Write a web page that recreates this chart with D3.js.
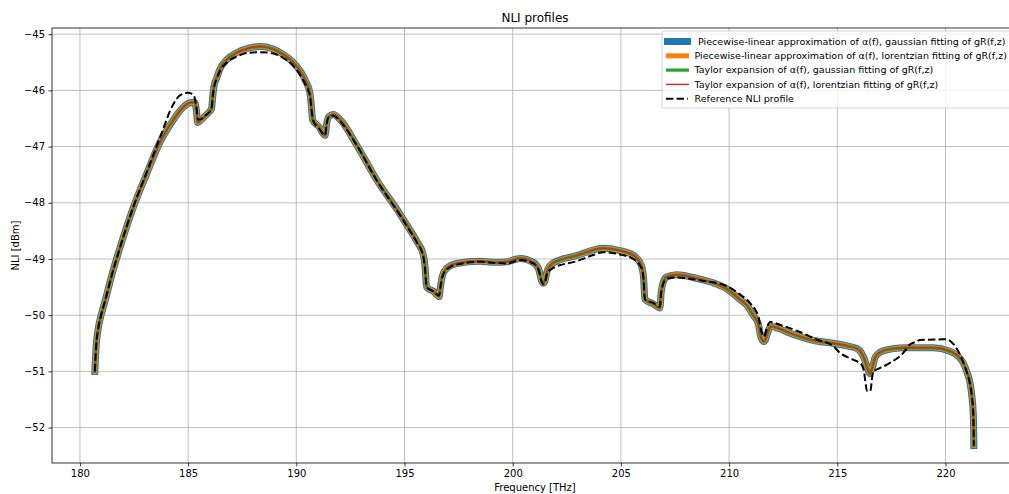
<!DOCTYPE html>
<html>
<head>
<meta charset="utf-8">
<script src="https://cdn.jsdelivr.net/npm/d3@7"></script>
<style>
  html, body { margin: 0; padding: 0; background: #fff; }
  svg { display: block; font-family: "DejaVu Sans", sans-serif; }
</style>
</head>
<body>
<svg id="chart" width="1009" height="494"></svg>
<script>
// ---- data ----
const xTicks = [180, 185, 190, 195, 200, 205, 210, 215, 220];
const yTicks = [-45, -46, -47, -48, -49, -50, -51, -52];

// frequency grid [THz] of the four approximated NLI profiles
const freqApprox = [180.69,180.75,180.85,181.00,181.16,181.50,181.85,182.46,183.08,183.70,184.31,184.70,185.08,185.30,185.38,185.44,185.52,185.85,186.08,186.14,186.20,186.32,186.47,186.80,187.24,187.80,188.32,188.90,189.39,189.80,190.17,190.45,190.63,190.70,190.75,191.05,191.33,191.40,191.50,191.71,192.02,192.80,193.71,194.79,195.20,195.56,195.87,195.95,196.02,196.35,196.60,196.66,196.75,196.94,197.41,198.48,199.20,199.72,200.33,200.95,201.20,201.33,201.42,201.50,201.60,201.87,202.95,204.18,204.95,205.57,205.95,206.05,206.11,206.50,206.80,206.86,206.95,207.11,207.57,208.65,209.30,209.88,210.50,210.81,211.11,211.35,211.46,211.62,211.75,211.85,211.96,212.10,212.81,214.04,214.81,215.50,215.89,216.10,216.25,216.38,216.50,216.62,216.75,216.97,217.50,218.20,219.43,220.20,220.55,220.82,221.00,221.13,221.22,221.28,221.30,221.31];
// the four approximations coincide visually: same NLI values [dBm]
const nliApprox = [-51.00,-50.55,-50.23,-49.97,-49.75,-49.25,-48.80,-48.09,-47.49,-46.92,-46.53,-46.33,-46.22,-46.21,-46.35,-46.57,-46.55,-46.43,-46.33,-46.10,-45.92,-45.78,-45.62,-45.45,-45.33,-45.25,-45.22,-45.26,-45.36,-45.48,-45.65,-45.85,-46.05,-46.30,-46.52,-46.65,-46.80,-46.60,-46.47,-46.43,-46.52,-46.98,-47.59,-48.20,-48.45,-48.68,-48.93,-49.15,-49.50,-49.58,-49.67,-49.50,-49.30,-49.17,-49.08,-49.04,-49.06,-49.05,-48.99,-49.06,-49.18,-49.38,-49.43,-49.38,-49.20,-49.07,-48.94,-48.81,-48.85,-48.93,-49.12,-49.35,-49.72,-49.80,-49.87,-49.60,-49.42,-49.32,-49.28,-49.36,-49.43,-49.53,-49.72,-49.82,-50.00,-50.15,-50.38,-50.47,-50.35,-50.24,-50.20,-50.21,-50.32,-50.46,-50.50,-50.55,-50.59,-50.66,-50.78,-50.93,-51.04,-50.93,-50.75,-50.66,-50.60,-50.58,-50.58,-50.64,-50.72,-50.85,-51.02,-51.20,-51.45,-51.74,-52.00,-52.32];

// reference NLI profile
const freqRef = [180.69,180.75,180.85,181.00,181.16,181.50,181.85,182.46,183.08,183.70,184.31,184.62,185.00,185.24,185.38,185.46,185.52,185.85,186.08,186.14,186.20,186.32,186.47,186.80,187.24,187.80,188.32,188.90,189.39,189.80,190.17,190.45,190.63,190.72,190.80,191.05,191.33,191.40,191.50,191.71,192.02,192.80,193.71,194.79,195.20,195.56,195.87,195.95,196.02,196.35,196.60,196.66,196.75,196.94,197.41,198.48,199.20,199.72,200.33,200.95,201.20,201.33,201.42,201.50,201.60,201.87,202.95,203.72,204.18,204.95,205.57,205.95,206.05,206.11,206.50,206.80,206.86,206.95,207.11,207.57,208.65,209.88,210.50,210.96,211.20,211.35,211.50,211.62,211.75,211.89,212.35,213.27,214.04,214.81,215.12,215.73,216.12,216.22,216.38,216.52,216.66,216.81,217.43,218.05,218.35,218.66,218.82,220.05,220.40,220.67,220.90,221.05,221.13,221.22,221.28,221.30,221.31];
const nliRef = [-51.00,-50.55,-50.23,-49.97,-49.75,-49.25,-48.80,-48.08,-47.46,-46.84,-46.25,-46.09,-46.04,-46.08,-46.28,-46.52,-46.52,-46.43,-46.33,-46.10,-45.94,-45.80,-45.66,-45.50,-45.40,-45.33,-45.32,-45.34,-45.42,-45.54,-45.72,-45.92,-46.10,-46.40,-46.56,-46.68,-46.80,-46.60,-46.47,-46.45,-46.55,-46.98,-47.60,-48.22,-48.47,-48.70,-48.96,-49.18,-49.50,-49.58,-49.65,-49.50,-49.32,-49.19,-49.10,-49.05,-49.07,-49.08,-49.02,-49.08,-49.20,-49.40,-49.45,-49.40,-49.25,-49.16,-49.04,-48.93,-48.88,-48.92,-49.00,-49.16,-49.38,-49.72,-49.78,-49.85,-49.60,-49.45,-49.35,-49.33,-49.38,-49.48,-49.63,-49.78,-49.90,-50.02,-50.30,-50.38,-50.22,-50.12,-50.17,-50.30,-50.43,-50.55,-50.67,-50.79,-50.88,-50.98,-51.35,-51.35,-51.00,-50.97,-50.85,-50.67,-50.52,-50.47,-50.44,-50.43,-50.53,-50.70,-50.92,-51.10,-51.22,-51.45,-51.74,-52.00,-52.32];

const seriesNames = [
  "Piecewise-linear approximation of \u03b1(f), gaussian fitting of gR(f,z)",
  "Piecewise-linear approximation of \u03b1(f), lorentzian fitting of gR(f,z)",
  "Taylor expansion of \u03b1(f), gaussian fitting of gR(f,z)",
  "Taylor expansion of \u03b1(f), lorentzian fitting of gR(f,z)",
  "Reference NLI profile"
];
const seriesColors = ["#1f77b4", "#ff7f0e", "#2ca02c", "#d62728", "#000000"];
const seriesWidths = [7, 5, 3.2, 1.4, 2];

// ---- layout ----
const svg = d3.select("#chart");
const W = 1009, H = 494;
const margin = { left: 52, top: 28, right: -9, bottom: 31 };
const x0 = margin.left, x1 = W - margin.right, y0 = margin.top, y1 = H - margin.bottom;

const x = d3.scaleLinear().domain([178.71, 223.35]).range([x0, x1]);
const y = d3.scaleLinear().domain([-52.63, -44.89]).range([y1, y0]);

svg.append("rect").attr("width", W).attr("height", H).attr("fill", "#fff");

// grid
const grid = svg.append("g");
grid.selectAll("line.gx").data(xTicks).join("line")
  .attr("x1", d => x(d)).attr("x2", d => x(d)).attr("y1", y0).attr("y2", y1)
  .attr("stroke", "#b0b0b0").attr("stroke-width", 0.8);
grid.selectAll("line.gy").data(yTicks).join("line")
  .attr("y1", d => y(d)).attr("y2", d => y(d)).attr("x1", x0).attr("x2", x1)
  .attr("stroke", "#b0b0b0").attr("stroke-width", 0.8);

// lines
svg.append("clipPath").attr("id", "clip").append("rect")
  .attr("x", x0).attr("y", y0).attr("width", x1 - x0).attr("height", y1 - y0);
const line = d3.line().x(d => x(d[0])).y(d => y(d[1])).curve(d3.curveMonotoneX);
const approxPts = d3.zip(freqApprox, nliApprox);
const refPts = d3.zip(freqRef, nliRef);
const plot = svg.append("g").attr("clip-path", "url(#clip)");
for (let i = 0; i < 4; i++) {
  plot.append("path").datum(approxPts).attr("d", line)
    .attr("fill", "none").attr("stroke", seriesColors[i]).attr("stroke-width", seriesWidths[i])
    .attr("stroke-linejoin", "round").attr("stroke-linecap", "square");
}
plot.append("path").datum(refPts).attr("d", line)
  .attr("fill", "none").attr("stroke", seriesColors[4]).attr("stroke-width", seriesWidths[4])
  .attr("stroke-dasharray", "7.4,3.2").attr("stroke-linejoin", "round");

// axes
const fmt = d => (d < 0 ? "\u2212" + Math.abs(d) : "" + d);
const xAxis = d3.axisBottom(x).tickValues(xTicks).tickSize(3.5).tickPadding(3.5).tickFormat(d => d);
const yAxis = d3.axisLeft(y).tickValues(yTicks).tickSize(3.5).tickPadding(3.5).tickFormat(fmt);
const gx = svg.append("g").attr("transform", `translate(0,${y1})`).call(xAxis);
const gy = svg.append("g").attr("transform", `translate(${x0},0)`).call(yAxis);
[gx, gy].forEach(g => {
  g.select(".domain").remove();
  g.selectAll(".tick line").attr("stroke", "#000").attr("stroke-width", 0.8);
  g.selectAll(".tick text").attr("font-family", "DejaVu Sans").attr("font-size", 10).attr("fill", "#000");
});

// spines
svg.append("rect").attr("x", x0).attr("y", y0).attr("width", x1 - x0).attr("height", y1 - y0)
  .attr("fill", "none").attr("stroke", "#000").attr("stroke-width", 0.8);

// title and labels
svg.append("text").attr("x", (x0 + x1) / 2).attr("y", 22).attr("text-anchor", "middle")
  .attr("font-size", 12).text("NLI profiles");
svg.append("text").attr("x", (x0 + x1) / 2).attr("y", 491).attr("text-anchor", "middle")
  .attr("font-size", 10).text("Frequency [THz]");
svg.append("text").attr("transform", `translate(19,${(y0 + y1) / 2}) rotate(-90)`)
  .attr("text-anchor", "middle").attr("font-size", 10).text("NLI [dBm]");

// legend
const lg = svg.append("g");
lg.append("rect").attr("x", 662).attr("y", 31).attr("width", 352).attr("height", 77)
  .attr("rx", 2).attr("fill", "#fff").attr("fill-opacity", 0.8)
  .attr("stroke", "#cccccc").attr("stroke-width", 0.8);
// fit legend font so the longest entry spans the same width as in the reference
const probe = lg.append("text").attr("font-size", 10).text(seriesNames[1]);
const probeLen = probe.node().getComputedTextLength();
probe.remove();
const legendFont = Math.min(10, 10 * 313 / probeLen);
seriesNames.forEach((name, i) => {
  const cy = 41.5 + i * 14.3;
  const l = lg.append("line").attr("x1", i === 0 ? 664 : 666).attr("x2", i === 0 ? 691 : (i === 4 ? 688 : 689))
    .attr("y1", cy).attr("y2", cy)
    .attr("stroke", seriesColors[i]).attr("stroke-width", seriesWidths[i]);
  if (i === 4) l.attr("stroke-dasharray", "7.4,3.2");
  lg.append("text").attr("x", i === 0 ? 698 : 694.5).attr("y", cy).attr("dy", "0.35em")
    .attr("font-size", legendFont).text(name);
});
</script>
</body>
</html>
